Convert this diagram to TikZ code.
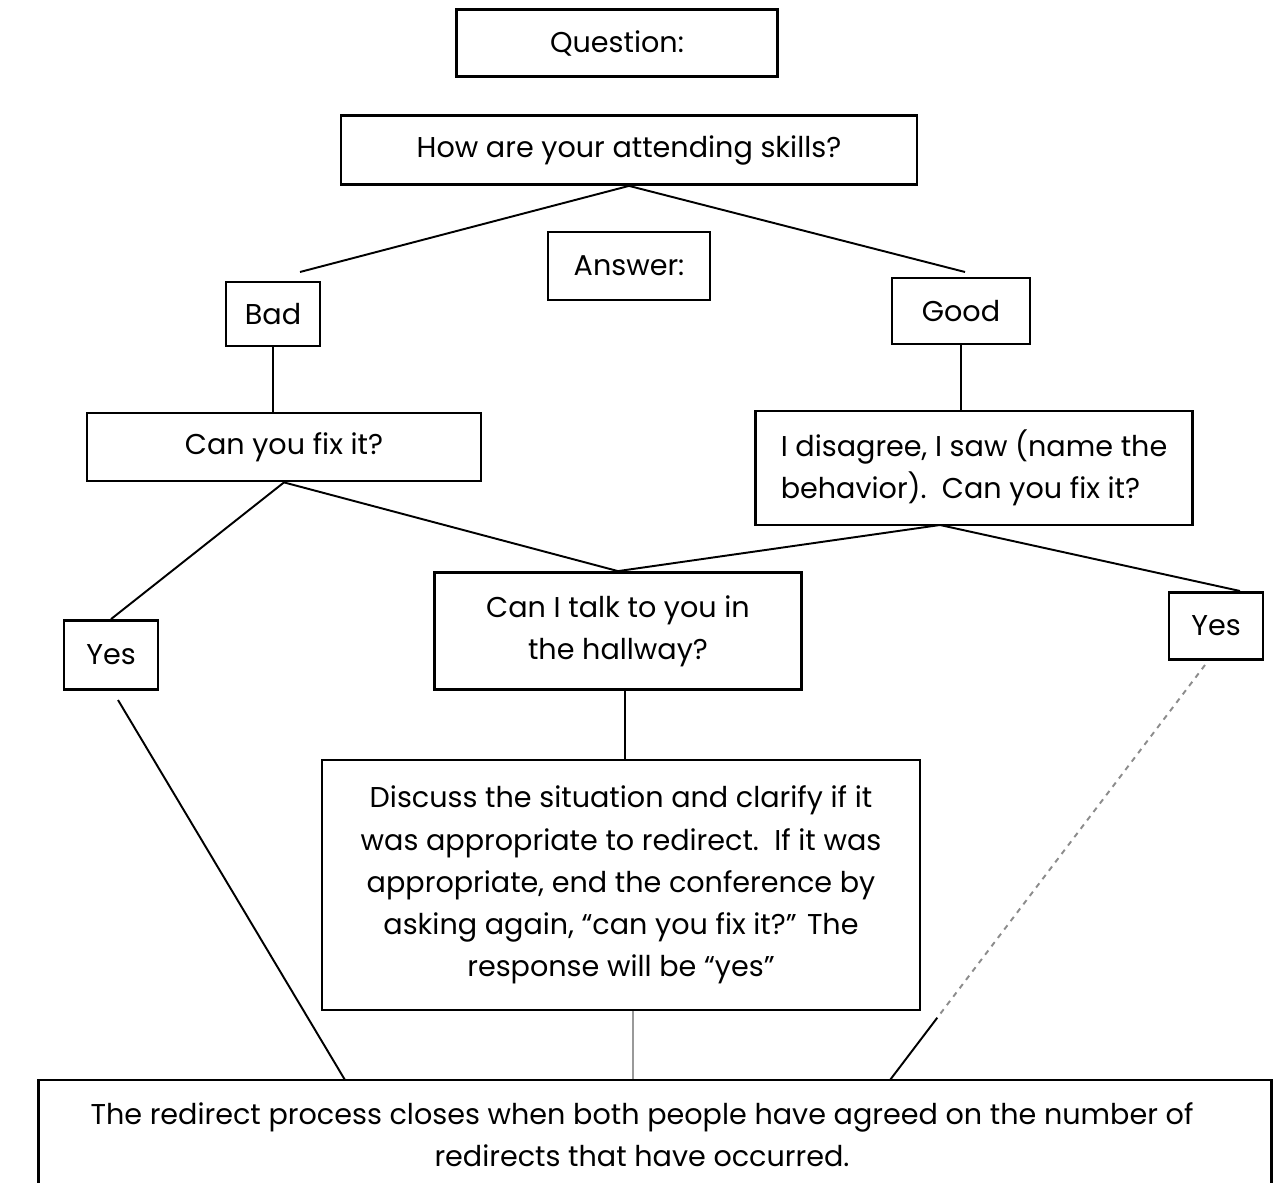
\documentclass[tikz,border=0pt]{standalone}
\usepackage{fontspec}
\setmainfont{Poppins}
\usepackage{tikz}
\usetikzlibrary{positioning,calc}

\begin{document}
\begin{tikzpicture}[x=0.02cm, y=-0.02cm,
  box/.style={draw, line width=1.6pt, align=center, inner sep=2pt,
    font=\fontsize{16.3}{24}\selectfont},
  link/.style={line width=1.1pt},
  faint/.style={line width=1.1pt, black!45, dashed},
]
  \useasboundingbox (0,0) rectangle (1273,1182);

  % top of the chart
  \node[box, minimum width=6.42cm, minimum height=1.34cm] (quest) at (617,43) {Question:};
  \node[box, minimum width=11.52cm, minimum height=1.38cm] (skills) at (629,150) {How are your attending skills?};
  \node[box, minimum width=3.24cm, minimum height=1.36cm] (answer) at (629,266) {Answer:};
  \node[box, minimum width=1.88cm, minimum height=1.28cm] (bad) at (273,314) {Bad};
  \node[box, minimum width=2.76cm, minimum height=1.32cm] (good) at (961,311) {Good};

  % follow-up questions
  \node[box, minimum width=7.88cm, minimum height=1.36cm] (fixbad) at (284,447) {Can you fix it?};
  \node[box, align=left, minimum width=8.74cm, minimum height=2.28cm] (fixgood) at (974,468)
    {I disagree, I saw (name the\\ behavior).\ \ Can you fix it?};
  \node[box, minimum width=7.34cm, minimum height=2.34cm] (hallway) at (618,631) {Can I talk to you in\\ the hallway?};
  \node[box, minimum width=1.88cm, minimum height=1.38cm] (yesl) at (111,655) {Yes};
  \node[box, minimum width=1.88cm, minimum height=1.34cm] (yesr) at (1216,626) {Yes};

  % conference and close
  \node[box, minimum width=11.96cm, minimum height=5cm] (discuss) at (621,885)
    {Discuss the situation and clarify if it\\ was appropriate to redirect.\ \ If it was\\
     appropriate, end the conference by\\ asking again, ``can you fix it?'' The\\ response will be ``yes''};
  \node[box, minimum width=24.68cm, minimum height=2.2cm] (close) at (655,1135) {};
  \node[box, draw=none] (closetext) at (642,1135)
    {The redirect process closes when both people have agreed on the number of\\ redirects that have occurred.};

  % free ends of the slanted links
  \coordinate (badtop) at (300,272);
  \coordinate (goodtop) at (965,272);
  \coordinate (gfork) at (940,525);
  \coordinate (yesrtop) at (1240,591);
  \coordinate (yeslfoot) at (118,700);
  \coordinate (yesrfoot) at (1205,665);
  \coordinate (closel) at (345,1080);
  \coordinate (closer) at (890,1080);

  \draw[link] (badtop) -- (skills.south) -- (goodtop);
  \draw[link] (bad.south) -- (bad.south |- fixbad.north);
  \draw[link] (good.south) -- (good.south |- fixgood.north);
  \draw[link] (yesl.north) -- (fixbad.south) -- (hallway.north) -- (gfork) -- (yesrtop);
  \draw[link] ($(hallway.south)+(7,0)$) -- ($(discuss.north)+(4,0)$);
  \draw[link] (yeslfoot) -- (closel);
  \draw[faint] (yesrfoot) -- ($(yesrfoot)!0.85!(closer)$);
  \draw[link] ($(yesrfoot)!0.85!(closer)$) -- (closer);
  \draw[link, black!40] ($(discuss.south)+(12,0)$) -- ($(discuss.south |- close.north)+(12,0)$);
\end{tikzpicture}
\end{document}
